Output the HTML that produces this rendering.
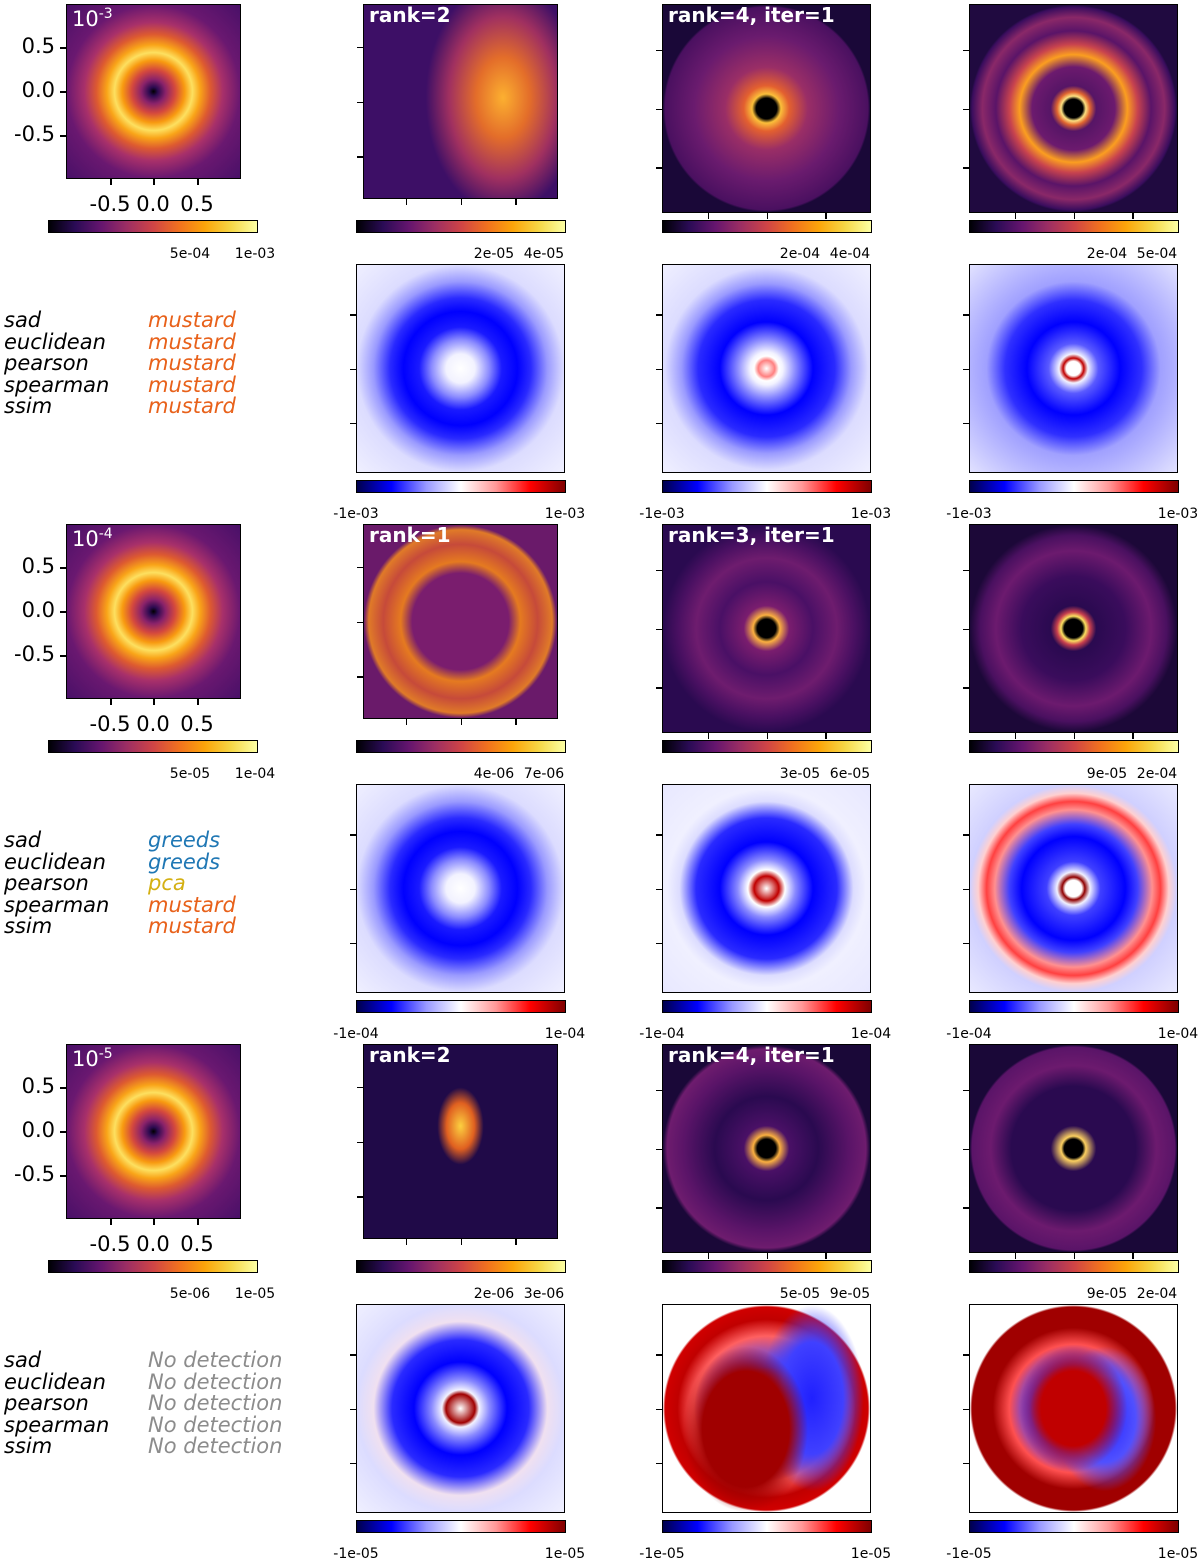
<!DOCTYPE html>
<html><head><meta charset="utf-8">
<style>
body{margin:0;background:#fff;width:1200px;height:1562px;position:relative;overflow:hidden;font-family:"DejaVu Sans","Liberation Sans",sans-serif}
.p{position:absolute;border:1.5px solid #000;box-sizing:border-box}
.cb{position:absolute;border:1px solid #000;box-sizing:border-box;height:13px}
.t{position:absolute;white-space:nowrap;color:#000}
.tk{position:absolute;background:#000}
.lab{position:absolute;font-size:20px;font-weight:bold;color:#fff;white-space:nowrap}
.m{position:absolute;font-size:21px;font-style:italic;white-space:nowrap}
</style></head><body>
<script>
const groupY=[0,520,1040];
const sups=["-3","-4","-5"];
const cb1Ticks=[["5e-04","1e-03"],["5e-05","1e-04"],["5e-06","1e-05"]];
const cbTopTicks=[
 [["2e-05","4e-05"],["2e-04","4e-04"],["2e-04","5e-04"]],
 [["4e-06","7e-06"],["3e-05","6e-05"],["9e-05","2e-04"]],
 [["2e-06","3e-06"],["5e-05","9e-05"],["9e-05","2e-04"]]];
const resTicks=[["-1e-03","1e-03"],["-1e-04","1e-04"],["-1e-05","1e-05"]];
const panelLabels=[["rank=2","rank=4, iter=1",""],["rank=1","rank=3, iter=1",""],["rank=2","rank=4, iter=1",""]];
const methods=["sad","euclidean","pearson","spearman","ssim"];
const results=[["mustard","mustard","mustard","mustard","mustard"],["greeds","greeds","pca","mustard","mustard"],["No detection","No detection","No detection","No detection","No detection"]];
const resColor={mustard:"#e8611a",greeds:"#1f77b4",pca:"#d4b012","No detection":"#8c8c8c"};

const INF="linear-gradient(to right,#000004,#2a0b55,#65156e,#9c2e63,#cf4446,#f1711f,#fca50a,#f6d746,#fcffa4)";
const BWR="linear-gradient(to right,#00004c,#0000ff,#9999ff,#ffffff,#ff9999,#ff0000,#800000)";
const DONUT="radial-gradient(circle closest-side,#000 0,#2c0a50 5%,#8a226a 14%,#d4483e 25%,#f89a10 36%,#fde060 45%,#f9a418 54%,#dd5a30 66%,#a8306a 80%,#6a1870 100%,#4a1068 140%)";
const RES="radial-gradient(circle closest-side,#fff 0,#f2f2ff 14%,#8a8aff 28%,#1a1aff 40%,#0000ff 55%,#2a2aff 68%,#9a9aff 84%,#dcdcff 100%,#efefff 140%)";
const bgs=[
 ["radial-gradient(ellipse 40% 60% at 72% 48%,#fcb030 0,#e36d2a 35%,#a03060 70%,transparent 100%),#3d0f66",
  "radial-gradient(circle closest-side,#000 0,#000 10%,#fbbf3a 14%,#e3602f 22%,#9a2e66 40%,#6a1b6e 70%,#4a1060 98%,#1a0838 100%)",
  "radial-gradient(circle closest-side,#000 0,#000 9%,#fde080 12%,#e06530 16%,#561566 22%,#6c1a6e 40%,#fb9e20 52%,#c8434e 62%,#5a1468 75%,#8a2868 88%,#3a0d5e 98%,#200a40 100%)"],
 ["radial-gradient(circle closest-side,#7a1d6e 0,#7a1d6e 50%,#e57a20 62%,#c64a3a 80%,#e07a28 95%,#6a1a6a 100%)",
  "radial-gradient(circle closest-side,#000 0,#000 9%,#fbb040 13%,#7a1d6e 22%,#4a1066 45%,#6e1c6e 68%,#4a1062 85%,#2a0a50 100%)",
  "radial-gradient(circle closest-side,#000 0,#000 9%,#fce060 12%,#c8404e 16%,#2a0a50 22%,#3a0c5c 50%,#6c1a6e 75%,#4a1060 90%,#1c0838 100%)"],
 ["radial-gradient(ellipse 12% 20% at 50% 42%,#fcd040 0,#e06020 60%,transparent 100%),#200a48",
  "radial-gradient(circle closest-side,#000 0,#000 9%,#fbb040 13%,#4a1066 22%,#2a0a50 50%,#5a1468 80%,#6e1c6e 96%,#1a0838 100%)",
  "radial-gradient(circle closest-side,#000 0,#000 9%,#fcd060 12%,#2a0a50 22%,#2a0a50 60%,#6c1a6e 80%,#5a1468 98%,#1a0838 100%)"]];
const res=[
 [RES,"radial-gradient(circle closest-side,#fff 0,#ff8080 8%,#fff 12%,#f2f2ff 16%,#8a8aff 28%,#0000ff 45%,#2a2aff 66%,#9a9aff 82%,#dcdcff 98%,#efefff 140%)",
  "radial-gradient(circle closest-side,#fff 0,#fff 7%,#c00000 10%,#f2f2ff 14%,#5a5aff 24%,#0000ff 45%,#3030ff 66%,#a0a0ff 84%,#e0e0ff 140%)"],
 [RES,"radial-gradient(circle closest-side,#fff 0,#c00000 12%,#fff 18%,#8a8aff 28%,#0000ff 45%,#2a2aff 68%,#dcdcff 84%,#f0f0ff 96%,#e8e8ff 140%)",
  "radial-gradient(circle closest-side,#fff 0,#fff 8%,#900000 11%,#f0f0ff 16%,#4040ff 26%,#0000ff 50%,#4040ff 62%,#ff9090 76%,#ff4040 84%,#ffd0d0 92%,#d0d0ff 100%,#e8e8ff 140%)"],
 ["radial-gradient(circle closest-side,#fff 0,#a00000 14%,#f2f2ff 18%,#8a8aff 28%,#0000ff 45%,#2a2aff 66%,#f0e0f0 84%,#dcdcff 100%,#efefff 140%)",
  "radial-gradient(ellipse 30% 40% at 40% 60%,#a00000 0,#a00000 70%,transparent 100%),radial-gradient(ellipse 25% 45% at 72% 45%,#2020ff 0,#4040ff 60%,transparent 100%),radial-gradient(circle closest-side,#fff 0,#fff 8%,#a00000 20%,#4040ff 40%,#ff6060 70%,#c00000 86%,#d00000 98%,#fff 100%)",
  "radial-gradient(ellipse 26% 30% at 50% 50%,#c00000 0,#c00000 60%,transparent 100%),radial-gradient(ellipse 25% 35% at 65% 55%,#2020ff 0,#5050ff 60%,transparent 100%),radial-gradient(circle closest-side,#fff 0,#fff 8%,#a00000 16%,#4040ff 42%,#ff5050 62%,#a00000 78%,#a00000 98%,#fff 100%)"]];

function el(cls,css,name,txt){const d=document.createElement('div');d.className=cls;d.style.cssText=css;


if(txt!==undefined)d.innerHTML=txt;document.body.appendChild(d);return d;}

const colX=[662,969];
groupY.forEach((oy,g)=>{
 el('p',`left:66px;top:${4+oy}px;width:175px;height:175px;background:${DONUT}`,'injected-disk-image');
 el('lab',`left:72px;top:${6+oy}px;font-weight:normal;font-size:21px`,'contrast-label',`10<sup style="font-size:14px">${sups[g]}</sup>`);
 [["0.5",47],["0.0",91],["-0.5",135]].forEach(([s,y])=>{
  el('t',`right:${1200-55}px;top:${y-13+oy}px;font-size:21px`,'y-tick-label',s);
  el('tk',`left:60px;top:${y+oy}px;width:6px;height:1.5px`,'y-tick');});
 [["-0.5",110],["0.0",153],["0.5",197]].forEach(([s,x])=>{
  el('t',`left:${x}px;transform:translateX(-50%);top:${192+oy}px;font-size:21px`,'x-tick-label',s);
  el('tk',`left:${x}px;top:${179+oy}px;width:1.5px;height:6px`,'x-tick');});
 el('cb',`left:48px;top:${220+oy}px;width:210px;background:${INF}`,'colorbar');
 cb1Ticks[g].forEach((s,i)=>{const x=[190,255][i];
  el('t',`left:${x}px;transform:translateX(-50%);top:${246+oy}px;font-size:14px`,'colorbar-tick-label',s);});
 methods.forEach((m,i)=>{
  el('m',`left:4px;top:${308+oy+i*21.5}px;color:#000`,'metric-name',m);
  const r=results[g][i];
  el('m',`left:148px;top:${308+oy+i*21.5}px;color:${resColor[r]}`,'detection-result',r);});
 for(let c=0;c<3;c++){
  const x0=c===0?356:colX[c-1];
  const ix=c===0?363:x0, iw=c===0?195:209;
  el('p',`left:${ix}px;top:${4+oy}px;width:${iw}px;height:${iw}px;background:${bgs[g][c]}`,'reconstruction-image');
  if(panelLabels[g][c])el('lab',`left:${ix+6}px;top:${3+oy}px`,'panel-label',panelLabels[g][c]);
  [0.22,0.5,0.78].forEach(f=>el('tk',`left:${ix-6}px;top:${4+oy+f*iw}px;width:6px;height:1.5px`,'y-tick'));
  [0.22,0.5,0.78].forEach(f=>el('tk',`left:${ix+f*iw}px;top:${4+oy+iw}px;width:1.5px;height:6px`,'x-tick'));
  el('cb',`left:${x0}px;top:${220+oy}px;width:210px;background:${INF}`,'colorbar');
  cbTopTicks[g][c].forEach((s,i)=>{const tx=x0+[138,188][i];
   el('t',`left:${tx}px;transform:translateX(-50%);top:${246+oy}px;font-size:14px`,'colorbar-tick-label',s);});
  el('p',`left:${x0}px;top:${264+oy}px;width:209px;height:209px;background:${res[g][c]}`,'residual-image');
  [0.24,0.5,0.76].forEach(f=>el('tk',`left:${x0-6}px;top:${264+oy+f*209}px;width:6px;height:1.5px`,'y-tick'));
  el('cb',`left:${x0}px;top:${480+oy}px;width:210px;background:${BWR}`,'residual-colorbar');
  el('t',`left:${x0}px;transform:translateX(-50%);top:${506+oy}px;font-size:14px`,'colorbar-tick-label',resTicks[g][0]);
  el('t',`left:${x0+209}px;transform:translateX(-50%);top:${506+oy}px;font-size:14px`,'colorbar-tick-label',resTicks[g][1]);
 }
});
</script>
</body></html>
